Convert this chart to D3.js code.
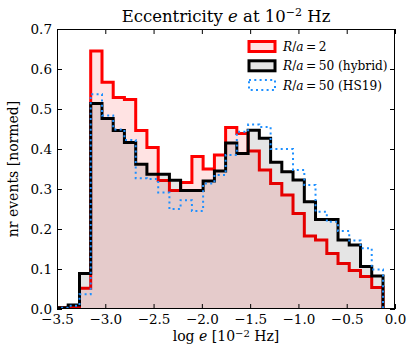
<!DOCTYPE html>
<html>
<head>
<meta charset="utf-8">
<script src="https://cdn.jsdelivr.net/npm/d3@7"></script>
<style>
  html, body { margin: 0; padding: 0; background: #fff; }
  svg { display: block; }
  text { font-family: "DejaVu Serif", serif; fill: #000; }
</style>
</head>
<body>
<svg id="chart" width="415" height="360"></svg>
<script>
// ---- data ----
const binEdges = [-3.500, -3.384, -3.267, -3.151, -3.034, -2.918, -2.802, -2.685, -2.569, -2.452,
                  -2.336, -2.220, -2.103, -1.987, -1.870, -1.754, -1.638, -1.521, -1.405, -1.288,
                  -1.172, -1.056, -0.939, -0.823, -0.706, -0.590, -0.474, -0.357, -0.241, -0.124];
const ra2 = [0.003, 0.005, 0.052, 0.645, 0.567, 0.529, 0.524, 0.446, 0.404, 0.321,
             0.296, 0.316, 0.381, 0.350, 0.385, 0.454, 0.439, 0.395, 0.3475, 0.314,
             0.285, 0.239, 0.1825, 0.1725, 0.139, 0.114, 0.096, 0.081, 0.054];
const ra50hybrid = [0.003, 0.010, 0.089, 0.514, 0.476, 0.446, 0.416, 0.362, 0.337, 0.337,
                    0.322, 0.296, 0.296, 0.320, 0.345, 0.415, 0.389, 0.447, 0.427, 0.367,
                    0.343, 0.3225, 0.268, 0.224, 0.224, 0.1725, 0.160, 0.106, 0.0825];
const ra50hs19 = [0.003, 0.008, 0.037, 0.537, 0.484, 0.449, 0.4225, 0.327, 0.325, 0.291,
                  0.250, 0.272, 0.245, 0.314, 0.335, 0.385, 0.443, 0.461, 0.455, 0.400,
                  0.400, 0.3475, 0.310, 0.243, 0.218, 0.195, 0.171, 0.152, 0.099];
const xTicks = [-3.5, -3.0, -2.5, -2.0, -1.5, -1.0, -0.5, 0.0];
const xTickLabels = ["\u22123.5", "\u22123.0", "\u22122.5", "\u22122.0", "\u22121.5", "\u22121.0", "\u22120.5", "0.0"];
const yTicks = [0.0, 0.1, 0.2, 0.3, 0.4, 0.5, 0.6, 0.7];
const yTickLabels = ["0.0", "0.1", "0.2", "0.3", "0.4", "0.5", "0.6", "0.7"];

// ---- layout ----
const svg = d3.select("#chart");
const L = 57, R = 395, T = 29, B = 309;
const x = d3.scaleLinear().domain([-3.5, 0]).range([L, R]);
const y = d3.scaleLinear().domain([0, 0.7]).range([B, T]);

function stepPoints(vals) {
  const pts = [[binEdges[0], 0]];
  vals.forEach((v, i) => { pts.push([binEdges[i], v]); pts.push([binEdges[i + 1], v]); });
  pts.push([binEdges[binEdges.length - 1], 0]);
  return pts;
}
const line = d3.line().x(d => x(d[0])).y(d => y(d[1]));

const series = [
  { vals: ra2, stroke: "#ff0000", fill: "rgba(255,0,0,0.11)", width: 3, dash: null },
  { vals: ra50hybrid, stroke: "#000000", fill: "rgba(0,0,0,0.1)", width: 3, dash: null },
  { vals: ra50hs19, stroke: "#1e90ff", fill: "none", width: 2, dash: "2,3.3" }
];

const plot = svg.append("g");
plot.append("defs").append("clipPath").attr("id", "clip")
  .append("rect").attr("x", L).attr("y", T).attr("width", R - L).attr("height", B - T);
const g = plot.append("g").attr("clip-path", "url(#clip)");
series.forEach(s => {
  const pts = stepPoints(s.vals);
  if (s.fill !== "none") {
    g.append("path").attr("d", line(pts) + "Z").attr("fill", s.fill).attr("stroke", "none");
  }
  g.append("path").attr("d", line(pts))
    .attr("fill", "none").attr("stroke", s.stroke).attr("stroke-width", s.width)
    .attr("stroke-linejoin", "miter").attr("stroke-dasharray", s.dash);
});

// ---- axes ----
const tickLen = 5;
const axB = svg.append("g").attr("transform", `translate(0,${B})`)
  .call(d3.axisBottom(x).tickValues(xTicks).tickFormat((d, i) => xTickLabels[i]).tickSizeInner(-tickLen).tickSizeOuter(0).tickPadding(5));
const axT = svg.append("g").attr("transform", `translate(0,${T})`)
  .call(d3.axisTop(x).tickValues(xTicks).tickFormat("").tickSizeInner(-tickLen).tickSizeOuter(0));
const axL = svg.append("g").attr("transform", `translate(${L},0)`)
  .call(d3.axisLeft(y).tickValues(yTicks).tickFormat((d, i) => yTickLabels[i]).tickSizeInner(-tickLen).tickSizeOuter(0).tickPadding(5));
const axR = svg.append("g").attr("transform", `translate(${R},0)`)
  .call(d3.axisRight(y).tickValues(yTicks).tickFormat("").tickSizeInner(-tickLen).tickSizeOuter(0));
[axB, axT, axL, axR].forEach(a => {
  a.select(".domain").remove();
  a.selectAll("text").style("font-family", "'DejaVu Serif', serif").style("font-size", "13.5px").attr("fill", "#000");
  a.selectAll("line").attr("stroke", "#000");
});
svg.append("rect").attr("x", L + 0.5).attr("y", T + 0.5).attr("width", R - L - 1).attr("height", B - T - 1)
  .attr("fill", "none").attr("stroke", "#000").attr("stroke-width", 1);

// ---- title & labels ----
const title = svg.append("text").attr("x", (L + R) / 2).attr("y", 22)
  .attr("text-anchor", "middle").style("font-size", "16.5px");
title.append("tspan").text("Eccentricity ");
title.append("tspan").style("font-style", "italic").text("e");
title.append("tspan").text(" at 10");
title.append("tspan").attr("dy", -6).style("font-size", "11px").text("\u22122");
title.append("tspan").attr("dy", 6).text(" Hz");

const xl = svg.append("text").attr("x", (L + R) / 2).attr("y", 341)
  .attr("text-anchor", "middle").style("font-size", "14px");
xl.append("tspan").text("log ");
xl.append("tspan").style("font-style", "italic").text("e");
xl.append("tspan").text(" [10");
xl.append("tspan").attr("dy", -4.5).style("font-size", "10px").text("\u22122");
xl.append("tspan").attr("dy", 4.5).text(" Hz]");

svg.append("text").attr("transform", `translate(18,${(T + B) / 2}) rotate(-90)`)
  .attr("text-anchor", "middle").style("font-size", "14px").text("nr events [normed]");

// ---- legend ----
const legendItems = [
  { label: ["2", ""], s: series[0] },
  { label: ["50", " (hybrid)"], s: series[1] },
  { label: ["50", " (HS19)"], s: series[2] }
];
const lg = svg.append("g");
legendItems.forEach((it, i) => {
  const yy = 46.5 + i * 19.3;
  lg.append("rect").attr("x", 249).attr("y", yy - 5).attr("width", 26).attr("height", 10)
    .attr("fill", it.s.fill === "none" ? "none" : it.s.fill)
    .attr("stroke", it.s.stroke).attr("stroke-width", it.s.width).attr("stroke-dasharray", it.s.dash);
  const t = lg.append("text").attr("x", 283).attr("y", yy + 4.5).style("font-size", "12.2px");
  t.append("tspan").style("font-style", "italic").text("R");
  t.append("tspan").text("/");
  t.append("tspan").style("font-style", "italic").text("a");
  t.append("tspan").text("\u2009=\u2009" + it.label[0] + it.label[1]);
});
</script>
</body>
</html>
